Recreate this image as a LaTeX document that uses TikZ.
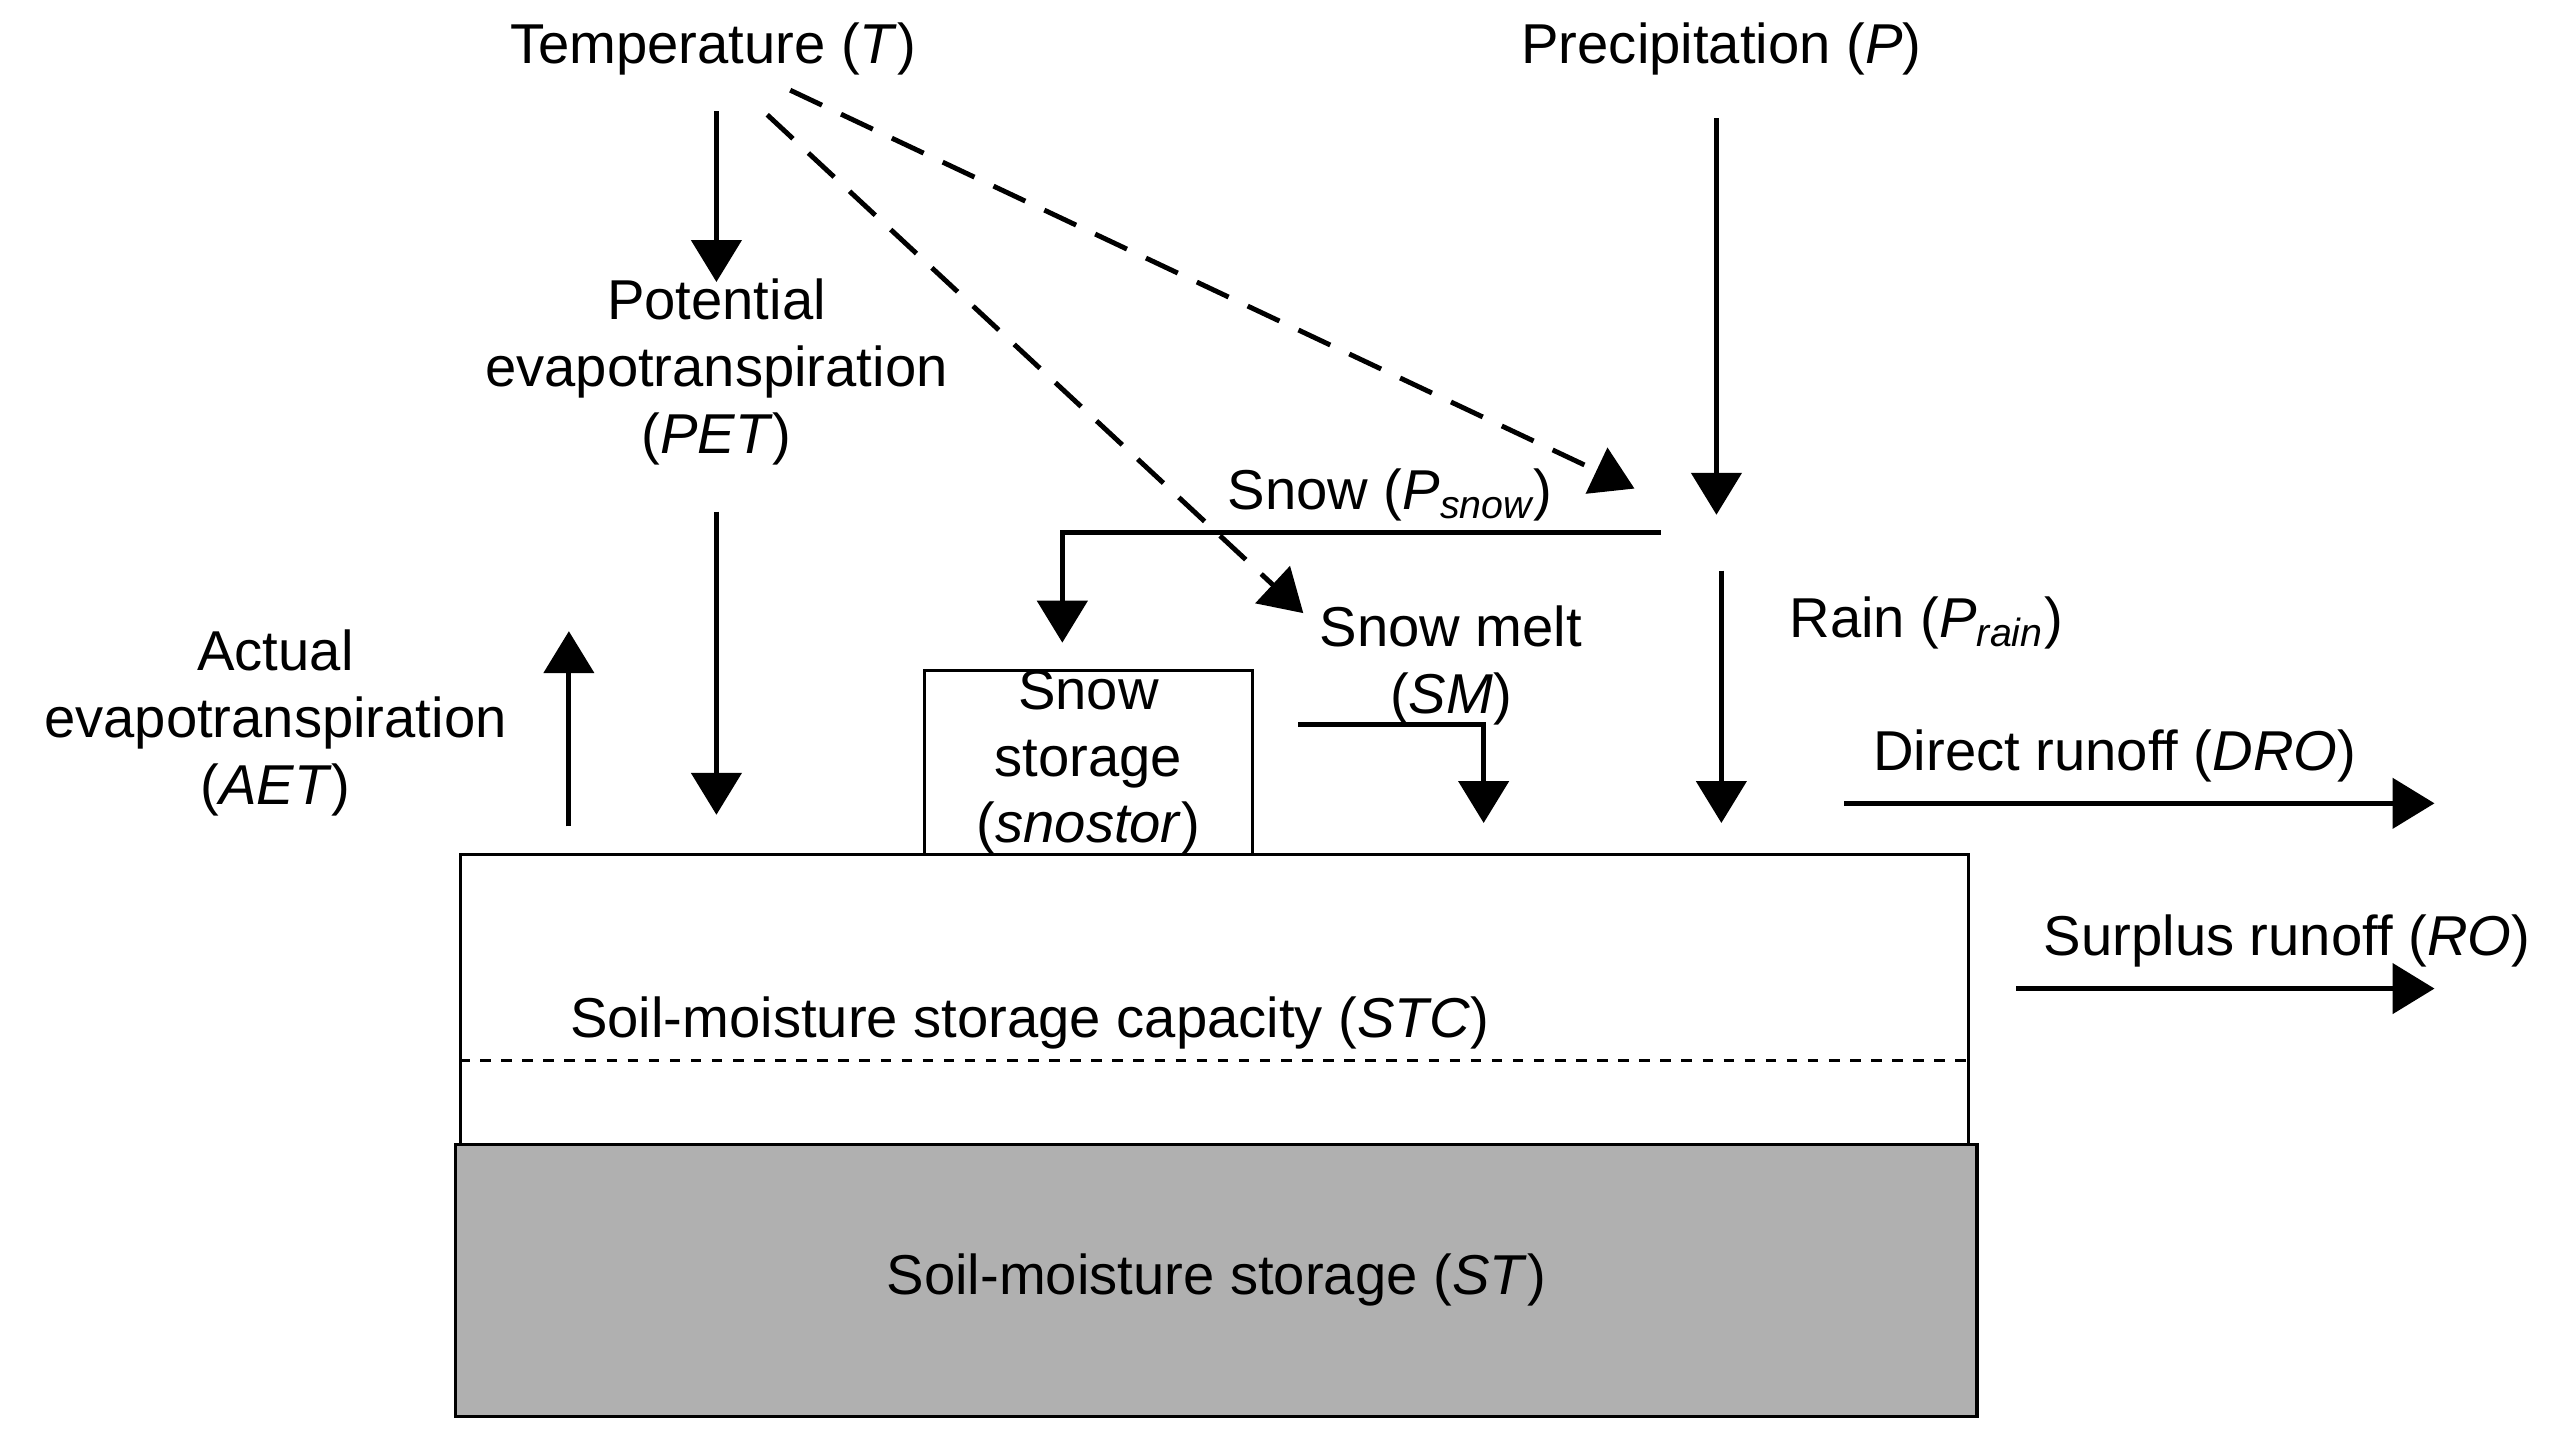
\documentclass[tikz,border=0pt]{standalone}
\usepackage{fontspec}
\setmainfont{Liberation Sans}
\usetikzlibrary{arrows.meta}
\newcommand{\pxu}{0.0164cm}

\begin{document}
\begin{tikzpicture}[x=\pxu, y=-\pxu,
    lbl/.style={font=\fontsize{16}{19}\selectfont, align=center, inner sep=1pt},
    flow/.style={line width=1.4pt, -{Triangle[length=0.42cm,width=0.5cm]}},
    dflow/.style={flow, dash pattern=on 10pt off 6pt},
    box/.style={draw, line width=0.9pt}]
    \useasboundingbox (0,0) rectangle (1564,878);

    % Storage boxes
    \node[box, fill=white, minimum width=920*\pxu, minimum height=177*\pxu, anchor=north west] (soil) at (280,520) {};
    \node[box, fill=black!31, minimum width=928*\pxu, minimum height=166*\pxu, anchor=north west] (st) at (277,697) {};
    \node[box, fill=white, minimum width=200*\pxu, minimum height=112*\pxu, anchor=north west] (snobox) at (563,408) {};
    \draw[dashed, line width=0.8pt] (soil.west |- 0,647) -- (soil.east |- 0,647);

    % Labels
    \node[lbl] (temp) at (435,30) {Temperature (\textit{T})};
    \node[lbl] (prec) at (1050,30) {Precipitation (\textit{P})};
    \node[lbl] (pet) at (437,227) {Potential\\evapotranspiration\\(\textit{PET})};
    \node[lbl] (aet) at (168,441) {Actual\\evapotranspiration\\(\textit{AET})};
    \node[lbl] (snow) at (848,302) {Snow (\textit{P\textsubscript{snow}})};
    \node[lbl] (rain) at (1175,380) {Rain (\textit{P\textsubscript{rain}})};
    \node[lbl] (melt) at (885,406) {Snow melt\\(\textit{SM})};
    \node[lbl] at (snobox.center) {Snow\\storage\\(\textit{snostor})};
    \node[lbl] (dro) at (1290,461) {Direct runoff (\textit{DRO})};
    \node[lbl] (ro) at (1395,574) {Surplus runoff (\textit{RO})};
    \node[lbl] (stc) at (628,624) {Soil-moisture storage capacity (\textit{STC})};
    \node[lbl] at (st.center) {Soil-moisture storage (\textit{ST})};

    % Connector ends
    \coordinate (t-a) at (437,68);   \coordinate (pet-in) at (437,172);
    \coordinate (pet-a) at (437,312); \coordinate (pet-b) at (437,497);
    \coordinate (aet-a) at (347,504); \coordinate (aet-b) at (347,385);
    \coordinate (t-b) at (482,55);   \coordinate (split-in) at (997,298);
    \coordinate (t-c) at (468,70);   \coordinate (melt-in) at (795,374);
    \coordinate (p-a) at (1047,72);  \coordinate (p-b) at (1047,314);
    \coordinate (snow-a) at (1013,325); \coordinate (snow-b) at (648,392);
    \coordinate (rain-a) at (1050,348); \coordinate (rain-b) at (1050,502);
    \coordinate (melt-a) at (792,442); \coordinate (melt-b) at (905,502);
    \coordinate (dro-a) at (1125,490); \coordinate (dro-b) at (1485,490);
    \coordinate (ro-a) at (1230,603);  \coordinate (ro-b) at (1485,603);

    % Flows
    \draw[flow] (t-a) -- (pet-in);
    \draw[flow] (pet-a) -- (pet-b);
    \draw[flow] (aet-a) -- (aet-b);
    \draw[dflow] (t-b) -- (split-in);
    \draw[dflow] (t-c) -- (melt-in);
    \draw[flow] (p-a) -- (p-b);
    \draw[flow] (snow-a) -| (snow-b);
    \draw[flow] (rain-a) -- (rain-b);
    \draw[flow] (melt-a) -| (melt-b);
    \draw[flow] (dro-a) -- (dro-b);
    \draw[flow] (ro-a) -- (ro-b);
\end{tikzpicture}
\end{document}
